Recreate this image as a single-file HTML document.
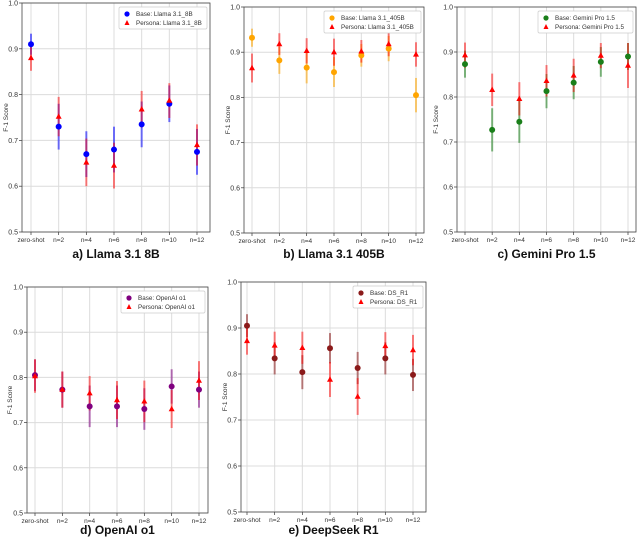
<!DOCTYPE html>
<html><head><meta charset="utf-8"><style>
body{margin:0;background:#fff;width:640px;height:542px;overflow:hidden}
svg{font-family:"Liberation Sans",sans-serif}
</style></head><body>
<svg id="s" width="640" height="542"></svg>
<script>
const categories=["zero-shot","n=2","n=4","n=6","n=8","n=10","n=12"];
const yTicks=[0.5,0.6,0.7,0.8,0.9,1.0];
const aBase=[0.91,0.73,0.67,0.68,0.735,0.78,0.675];
const aBaseErr=[0.023,0.05,0.05,0.05,0.05,0.04,0.05];
const aPers=[0.88,0.752,0.652,0.645,0.768,0.787,0.69];
const aPersErr=[0.028,0.043,0.052,0.05,0.04,0.038,0.045];
const bBase=[0.932,0.882,0.866,0.856,0.893,0.908,0.805];
const bBaseErr=[0.02,0.03,0.035,0.033,0.025,0.028,0.038];
const bPers=[0.865,0.918,0.903,0.9,0.902,0.918,0.895];
const bPersErr=[0.032,0.024,0.028,0.03,0.025,0.027,0.027];
const cBase=[0.873,0.727,0.745,0.813,0.832,0.878,0.89];
const cBaseErr=[0.03,0.048,0.047,0.038,0.037,0.033,0.03];
const cPers=[0.893,0.816,0.796,0.836,0.848,0.892,0.87];
const cPersErr=[0.028,0.036,0.037,0.035,0.037,0.028,0.05];
const dBase=[0.805,0.773,0.736,0.736,0.73,0.78,0.773];
const dBaseErr=[0.035,0.04,0.046,0.046,0.046,0.038,0.04];
const dPers=[0.803,0.773,0.765,0.75,0.747,0.73,0.793];
const dPersErr=[0.037,0.04,0.038,0.042,0.046,0.042,0.043];
const eBase=[0.905,0.834,0.804,0.856,0.813,0.834,0.798];
const eBaseErr=[0.025,0.035,0.037,0.033,0.035,0.035,0.035];
const ePers=[0.872,0.862,0.857,0.788,0.751,0.861,0.852];
const ePersErr=[0.03,0.03,0.035,0.038,0.04,0.03,0.033];

const NS="http://www.w3.org/2000/svg";
const svg=document.getElementById('s');
function mk(p,t,at){const e=document.createElementNS(NS,t);for(const k in at)e.setAttribute(k,at[k]);p.appendChild(e);return e;}
const panels=[
 {id:'a',L:22,R:210,T:3,B:232,x0:31,x1:197,ylx:8,ty:258,title:'a) Llama 3.1 8B',base:aBase,be:aBaseErr,pers:aPers,pe:aPersErr,col:'#0000ff',bl:'Base: Llama 3.1_8B',pl:'Persona: Llama 3.1_8B',lw:88},
 {id:'b',L:244,R:424,T:7,B:233,x0:252,x1:416,ylx:230,ty:258,title:'b) Llama 3.1 405B',base:bBase,be:bBaseErr,pers:bPers,pe:bPersErr,col:'#ffa500',bl:'Base: Llama 3.1_405B',pl:'Persona: Llama 3.1_405B',lw:97},
 {id:'c',L:457,R:636,T:7,B:232,x0:465,x1:628,ylx:438,ty:258,title:'c) Gemini Pro 1.5',base:cBase,be:cBaseErr,pers:cPers,pe:cPersErr,col:'#1a7f1a',bl:'Base: Gemini Pro 1.5',pl:'Persona: Gemini Pro 1.5',lw:95},
 {id:'d',L:27,R:208,T:287,B:513,x0:35,x1:199,ylx:12,ty:534,title:'d) OpenAI o1',base:dBase,be:dBaseErr,pers:dPers,pe:dPersErr,col:'#800080',bl:'Base: OpenAI o1',pl:'Persona: OpenAI o1',lw:84},
 {id:'e',L:241,R:426,T:282,B:512,x0:247,x1:413,ylx:227,ty:534,title:'e) DeepSeek R1',base:eBase,be:eBaseErr,pers:ePers,pe:ePersErr,col:'#8b1a1a',bl:'Base: DS_R1',pl:'Persona: DS_R1',lw:70}
];
panels.forEach(p=>{
 const g=mk(svg,'g',{});
 
 
 const X=i=>p.x0+(p.x1-p.x0)*i/(categories.length-1);
 const Y=v=>p.B-(v-0.5)/0.5*(p.B-p.T);
 yTicks.forEach(t=>{
  const gl=mk(g,'line',{x1:p.L,x2:p.R,y1:Y(t),y2:Y(t),stroke:'#dcdcdc','stroke-width':1});
  
  
  mk(g,'line',{x1:p.L-3,x2:p.L,y1:Y(t),y2:Y(t),stroke:'#333','stroke-width':0.7});
  const tx=mk(g,'text',{x:p.L-4,y:Y(t)+2.5,'font-size':7,'text-anchor':'end',fill:'#333'});
  tx.textContent=t.toFixed(1);
  
  
 });
 categories.forEach((c,i)=>{
  const gl=mk(g,'line',{x1:X(i),x2:X(i),y1:p.T,y2:p.B,stroke:'#dcdcdc','stroke-width':1});
  
  
  mk(g,'line',{x1:X(i),x2:X(i),y1:p.B,y2:p.B+3,stroke:'#333','stroke-width':0.7});
  const tx=mk(g,'text',{x:X(i),y:p.B+10,'font-size':6.5,'text-anchor':'middle',fill:'#333'});
  tx.textContent=c;
  
  
 });
 const fr=mk(g,'rect',{x:p.L,y:p.T,width:p.R-p.L,height:p.B-p.T,fill:'none',stroke:'#444','stroke-width':0.8});
 
 
 const yl=mk(g,'text',{x:p.ylx,y:(p.T+p.B)/2,'font-size':6.5,'text-anchor':'middle',fill:'#333',transform:`rotate(-90 ${p.ylx} ${(p.T+p.B)/2})`});
 yl.textContent='F-1 Score';
 
 
 // error bars
 p.base.forEach((v,i)=>{
  const e=mk(g,'line',{x1:X(i),x2:X(i),y1:Y(v-p.be[i]),y2:Y(v+p.be[i]),stroke:p.col,'stroke-width':2,'stroke-opacity':0.55});
  
  
 });
 p.pers.forEach((v,i)=>{
  const e=mk(g,'line',{x1:X(i),x2:X(i),y1:Y(v-p.pe[i]),y2:Y(v+p.pe[i]),stroke:'#ff0000','stroke-width':2,'stroke-opacity':0.5});
  
  
 });
 p.base.forEach((v,i)=>{
  const m=mk(g,'circle',{cx:X(i),cy:Y(v),r:3,fill:p.col});
  
  
 });
 p.pers.forEach((v,i)=>{
  const x=X(i),y=Y(v);
  const m=mk(g,'polygon',{points:`${x},${y-3.2} ${x-3},${y+2.2} ${x+3},${y+2.2}`,fill:'#ff0000'});
  
  
 });
 // legend
 const lx=p.R-p.lw-3, ly=p.T+4;
 const lg=mk(g,'g',{});
 
 
 mk(lg,'rect',{x:lx,y:ly,width:p.lw,height:22,fill:'#fff',stroke:'#ccc','stroke-width':0.7,rx:1.5});
 mk(lg,'circle',{cx:lx+8,cy:ly+7,r:2.6,fill:p.col});
 mk(lg,'polygon',{points:`${lx+8},${ly+13} ${lx+5.5},${ly+18} ${lx+10.5},${ly+18}`,fill:'#ff0000'});
 const t1=mk(lg,'text',{x:lx+17,y:ly+9,'font-size':6.3,fill:'#333'});t1.textContent=p.bl;
 
 
 const t2=mk(lg,'text',{x:lx+17,y:ly+18,'font-size':6.3,fill:'#333'});t2.textContent=p.pl;
 
 
 const tt=mk(g,'text',{x:(p.L+p.R)/2,y:p.ty,'font-size':12,'font-weight':'bold','text-anchor':'middle',fill:'#111'});
 tt.textContent=p.title;
 
 
});
</script>
</body></html>
